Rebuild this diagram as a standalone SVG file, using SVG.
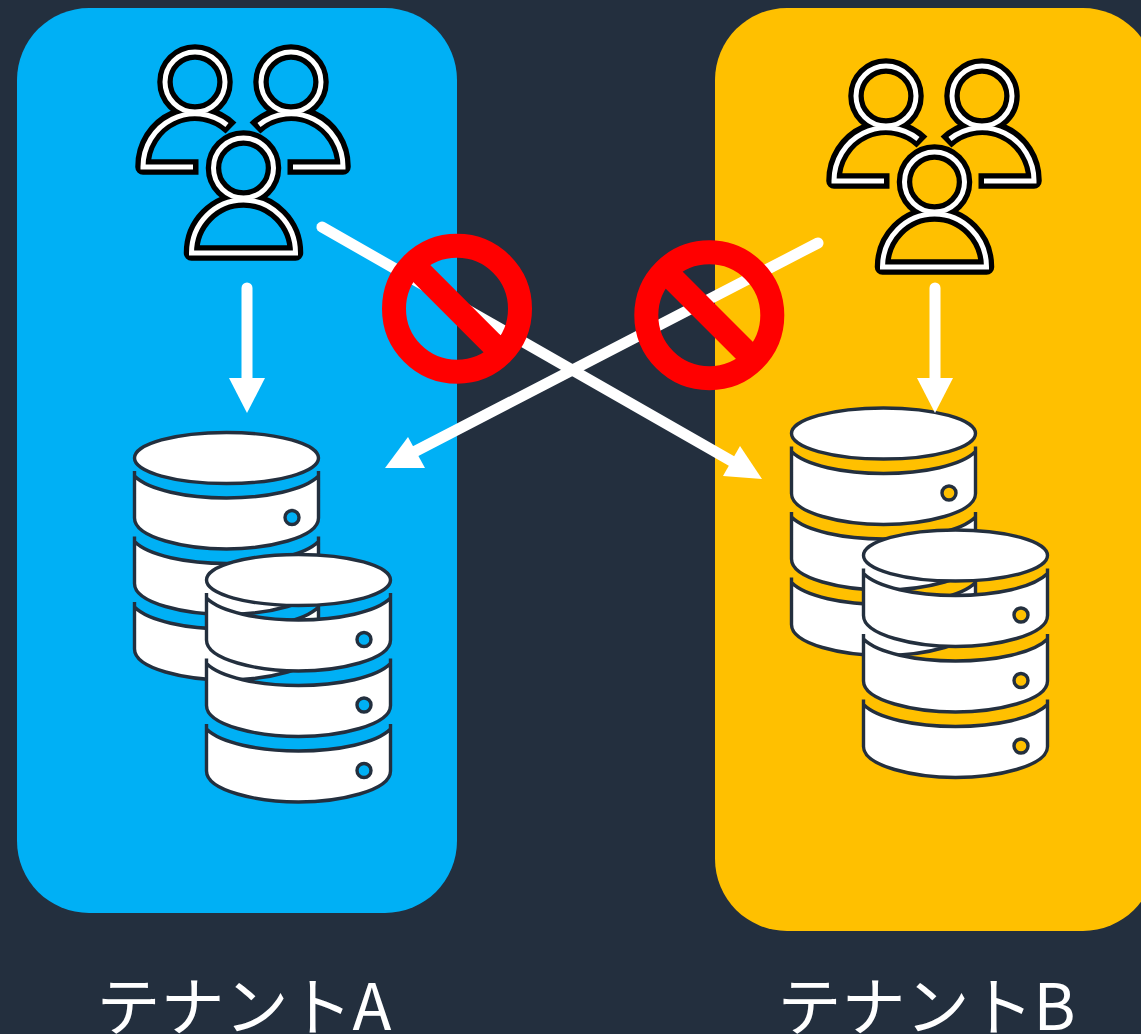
<svg xmlns="http://www.w3.org/2000/svg" width="1141" height="1034" viewBox="0 0 1141 1034">
<style>
.lbl{font-family:"Noto Sans CJK JP","Noto Sans",sans-serif;font-size:64px;fill:#fff}
.conn{fill:none;stroke:#fff;stroke-width:11;stroke-linecap:round}
.blk{fill:none;stroke:#000;stroke-width:15.5;stroke-linejoin:round}
.wht{fill:none;stroke:#fff;stroke-width:5;stroke-linejoin:miter}
.db{stroke:#232F3E;stroke-width:3.4;fill:#fff;stroke-linejoin:bevel}
.dot{stroke:#232F3E;stroke-width:3.4;fill:currentColor}
.ring{fill:none;stroke:#f00;stroke-width:24}
.bar{fill:none;stroke:#f00;stroke-width:24}
</style>
<defs>
<g id="p-l">
<circle class="blk" r="30"/>
<path class="blk" d="M3.5 85H-52A52 53 0 0 1 36 46"/>
<circle class="wht" r="30"/>
<path class="wht" d="M-2 85H-52A52 53 0 0 1 32 43"/>
</g>
<g id="p-f">
<circle class="blk" r="30"/>
<path class="blk" d="M-52 85A52 53 0 0 1 52 85Z"/>
<circle class="wht" r="30"/>
<path class="wht" d="M-52 85A52 53 0 0 1 52 85Z"/>
</g>
<g id="users">
<use href="#p-l" x="195" y="82"/>
<use href="#p-l" transform="translate(291 82) scale(-1 1)"/>
<use href="#p-f" x="243.5" y="168"/>
</g>
<g id="disk">
<path class="db" d="M-92 13V18C-78 32-40 40 0 40S78 32 92 18V13V60C92 80 40 91 0 91S-92 80-92 60V13"/>
<circle class="dot" cx="65.5" cy="59.5" r="7"/>
</g>
<g id="stack">
<use href="#disk" y="131"/>
<use href="#disk" y="65.5"/>
<use href="#disk"/>
<ellipse class="db" rx="92" ry="25.5"/>
</g>
<g id="dbs">
<use href="#stack" x="226.5" y="458"/>
<use href="#stack" x="298.5" y="580"/>
</g>
<g id="no">
<circle class="ring" r="63"/>
<path class="bar" d="M-47 -47L47 47"/>
</g>
</defs>
<rect width="1141" height="1034" fill="#232F3E"/>
<g id="tenant-a-panel"><rect x="17" y="8" width="440" height="905" rx="72" fill="#00B0F5"/></g>
<g id="tenant-b-panel"><rect x="715" y="8" width="440" height="923" rx="72" fill="#FFC000"/></g>
<g id="tenant-a-users"><use href="#users"/></g>
<g id="tenant-b-users"><use href="#users" x="691" y="14"/></g>
<g id="tenant-a-db" color="#00B0F5"><use href="#dbs"/></g>
<g id="tenant-b-db" color="#FFC000"><use href="#dbs" x="657" y="-24.5"/></g>
<g id="connectors">
<path class="conn" d="M247 288V380"/>
<polygon points="229,378 265,378 247,413" fill="#fff"/>
<path class="conn" d="M935 288V380"/>
<polygon points="917,378 953,378 935,413" fill="#fff"/>
<path class="conn" d="M322 227L735 463"/>
<polygon points="740,446 723,476 762,479" fill="#fff"/>
<path class="conn" d="M818 243L412 453"/>
<polygon points="408,437 425,468 385,468" fill="#fff"/>
</g>
<g id="block-a"><use href="#no" x="457" y="308.7"/></g>
<g id="block-b"><use href="#no" x="709.3" y="315.3"/></g>
<g id="label-a"><text class="lbl" x="96.5" y="1030">テナントA</text></g>
<g id="label-b"><text class="lbl" x="777.5" y="1030">テナントB</text></g>
</svg>
